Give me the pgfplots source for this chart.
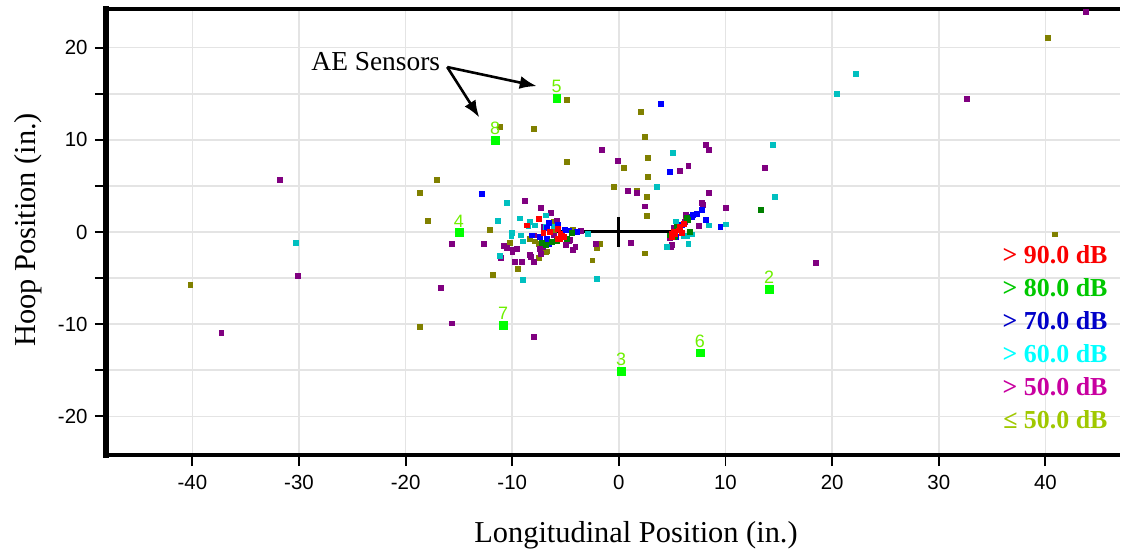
\documentclass[border=0pt]{standalone}
\usepackage{pgfplots}
\pgfplotsset{compat=1.18}
\usetikzlibrary{arrows.meta}
\usepackage{fontspec}
\setmainfont{Liberation Serif}
\newfontfamily\arial{Liberation Sans}

\definecolor{cRed}{RGB}{255,0,0}
\definecolor{cGreen}{RGB}{0,128,0}
\definecolor{cBlue}{RGB}{0,0,255}
\definecolor{cCyan}{RGB}{0,192,192}
\definecolor{cPurple}{RGB}{128,0,128}
\definecolor{cOlive}{RGB}{128,128,0}
\definecolor{cSensor}{RGB}{0,255,0}
\definecolor{cSensorTxt}{RGB}{110,240,0}
\definecolor{lRed}{RGB}{250,0,0}
\definecolor{lGreen}{RGB}{0,200,0}
\definecolor{lBlue}{RGB}{0,0,200}
\definecolor{lCyan}{RGB}{0,255,255}
\definecolor{lMag}{RGB}{200,0,160}
\definecolor{lYel}{RGB}{160,200,0}
\definecolor{gridgray}{RGB}{228,228,228}

\begin{document}
\begin{tikzpicture}
\begin{axis}[
  scale only axis,
  width=1014bp, height=446bp,
  xmin=-48.1, xmax=47.0,
  ymin=-24.2, ymax=24.2,
  xtick={-40,-30,-20,-10,0,10,20,30,40},
  xticklabels={-40,-30,-20,-10,0,10,20,30,40},
  ytick={-20,-10,0,10,20},
  yticklabels={-20,-10,0,10,20},
  minor ytick={-15,-5,5,15},
  xtick pos=bottom, ytick pos=left,
  tick align=outside,
  major tick length=11bp, minor tick length=11bp,
  every tick/.style={black, line width=1.8bp},
  minor tick style={black, line width=1.8bp},
  xmajorgrids, ymajorgrids, yminorgrids,
  grid style={gridgray, line width=1.5bp},
  minor grid style={gridgray, line width=1.5bp},
  axis line style={draw=none},
  tick label style={font=\arial\fontsize{20.5}{24}\selectfont},
  xticklabel style={yshift=-6bp},
  yticklabel style={xshift=-4bp},
  xlabel={Longitudinal Position (in.)},
  ylabel={Hoop Position (in.)},
  label style={font=\fontsize{30.5}{36}\selectfont},
  xlabel style={at={(axis description cs:0.5,0)}, anchor=center, yshift=-80bp, xshift=23bp},
  ylabel style={at={(axis description cs:-0.0769,0.5045)}, anchor=center},
  clip=false,
]
% crosshair
\addplot[draw=black, line width=3bp, mark=none, forget plot] coordinates {(-6.2,0) (5.0,0)};
\addplot[draw=black, line width=3bp, mark=none, forget plot] coordinates {(0,-1.6) (0,1.6)};

% <= 50 dB
\addplot[only marks, mark=square*, mark size=2.45bp, cOlive] coordinates {
(-40.2,-5.7) (-18.7,-10.3) (-18.7,4.3) (-17.1,5.7) (-17.9,1.2) (-12.1,0.27)
(-11.8,-4.6) (-9.5,-4.0) (-10.2,-1.14) (-8.4,-0.7) (-7.9,-1.0) (-7.55,-1.25)
(-7.2,-1.6) (-6.9,-2.16) (-6.8,-2.08) (-7.55,-2.8) (-6.1,1.1) (-6.1,0.27)
(-4.3,0.27) (-1.8,-1.3) (-2.07,-1.7) (-2.5,-3.06) (-4.9,14.4) (-11.2,11.4)
(-8.0,11.2) (-4.9,7.65) (-0.5,4.9) (0.42,7.0) (1.64,4.5) (2.05,13.1)
(2.46,10.3) (2.7,8.1) (2.7,6.0) (2.6,3.85) (2.6,1.8) (2.46,-2.3) (6.3,1.6)
(40.2,21.1) (40.85,-0.24)
};
% > 50 dB
\addplot[only marks, mark=square*, mark size=2.45bp, cPurple] coordinates {
(-31.8,5.7) (-30.1,-4.76) (-37.3,-10.9) (-16.7,-6.0) (-15.7,-9.9) (-8.0,-11.35)
(-15.7,-1.3) (-12.7,-1.3) (-11.1,-2.8) (-9.8,-3.2) (-9.1,-3.2) (-8.0,-3.2)
(-8.4,-2.5) (-8.3,-2.7) (-7.3,-2.4) (-10.0,-2.1) (-10.8,-1.5) (-10.5,-1.7)
(-9.95,-1.87) (-9.6,-1.8) (-7.4,-1.8) (-7.1,-1.6) (-8.8,3.4) (-7.3,2.6)
(-6.4,2.1) (-7.1,0.55) (-5.8,1.28) (-6.8,0.45) (-3.6,0.1) (-4.95,-1.36)
(-4.1,-1.6) (-4.3,-1.9) (-4.74,-0.9) (-4.6,-0.8) (-2.2,-1.3) (-1.64,8.9)
(-0.14,7.76) (1.1,-1.2) (0.83,4.5) (1.68,4.3) (2.46,2.8) (8.15,9.5) (8.43,8.9)
(6.5,7.15) (5.7,6.7) (13.7,7.0) (8.43,4.3) (7.8,3.2) (7.9,3.0) (10.06,2.6)
(6.3,1.9) (6.2,1.1) (7.46,0.7) (5.1,0.48) (4.8,-0.6) (4.87,-1.55) (4.96,-1.35)
(18.5,-3.35) (32.6,14.5) (43.8,23.9) (-7.95,-0.35) (-6.1,-0.35)
};
% > 60 dB
\addplot[only marks, mark=square*, mark size=2.45bp, cCyan] coordinates {
(-30.3,-1.2) (-10.5,3.2) (-11.4,1.2) (-9.3,1.5) (-8.4,1.1) (-7.9,0.74)
(-8.5,0.7) (-6.86,1.82) (-6.86,0.55) (-6.1,0.63) (-2.9,-0.22) (-10.05,-0.1)
(-10.1,-0.4) (-9.2,-0.35) (-9.05,-1.0) (-11.2,-2.6) (-9.05,-5.2) (-2.1,-5.1)
(3.55,4.9) (5.05,8.6) (14.4,9.5) (14.65,3.85) (20.4,15.0) (22.2,17.2)
(5.3,1.17) (6.05,-0.45) (6.37,-0.45) (6.68,-0.05) (6.84,-0.24) (8.4,0.74)
(10.06,0.85) (6.5,-1.3) (4.5,-1.6)
};
% > 70 dB
\addplot[only marks, mark=square*, mark size=2.45bp, cBlue] coordinates {
(-12.9,4.2) (-6.6,1.0) (-5.7,0.8) (-6.8,0.45) (-5.05,0.27) (-4.7,0.2)
(-3.95,0) (-8.2,-0.35) (-7.4,-0.53) (-6.8,-0.7) (-6.45,-1.07) (-6.6,-1.3)
(3.96,13.9) (4.77,6.57) (7.8,2.44) (7.3,2.0) (6.9,1.9) (6.8,1.7) (5.9,0.8)
(5.7,0.63) (5.37,-0.5) (8.15,1.35) (9.5,0.55)
};
% > 80 dB
\addplot[only marks, mark=square*, mark size=2.45bp, cGreen] coordinates {
(-7.2,-1.18) (-6.9,-1.36) (-6.3,-1.07) (-5.8,-0.9) (-4.4,-0.1) (-4.9,-0.7)
(13.3,2.44) (6.37,1.57) (6.5,1.35) (5.4,0.55) (6.68,0) (4.8,-0.35)
(5.1,-0.53) (5.27,-0.45)
};
% > 90 dB
\addplot[only marks, mark=square*, mark size=2.45bp, cRed] coordinates {
(-7.55,1.46) (-8.64,0.74) (-5.7,0.38) (-6.45,0) (-7.1,-0.1) (-5.5,-0.16)
(-5.36,-0.35) (-5.2,-0.53) (-5.5,-0.7) (-5.77,-0.7) (6.05,0.92) (5.74,0.55)
(5.58,0.2) (5.1,0) (4.96,-0.16) (5.9,-0.1) (5.27,-0.24) (4.96,-0.5)
};
% AE sensors
\addplot[only marks, mark=square*, mark size=3.9bp, cSensor,
  nodes near coords, point meta=explicit symbolic,
  every node near coord/.append style={anchor=center, yshift=11.5bp,
    font=\arial\fontsize{18}{21}\selectfont, text=cSensorTxt}]
  table[meta=label] {
x y label
14.1 -6.2 2
0.2 -15.1 3
-15.0 -0.05 4
-5.83 14.5 5
7.6 -13.1 6
-10.85 -10.1 7
-11.6 10.0 8
};

% annotation
\node[anchor=base west, font=\fontsize{27.5}{32}\selectfont] at (axis cs:-29.16,17.57) {AE Sensors};
\draw[black, line width=2.6bp, -{Latex[length=17bp,width=13bp]}] (axis cs:-16.1,17.9) -- (axis cs:-13.09,12.43);
\draw[black, line width=2.6bp, -{Latex[length=17bp,width=13bp]}] (axis cs:-16.1,17.9) -- (axis cs:-7.70,15.83);

% legend text
\begin{scope}[every node/.style={anchor=base east, font=\bfseries\fontsize{26}{30}\selectfont}]
\node[text=lRed]   at (axis cs:46.15,-3.39)  {> 90.0 dB};
\node[text=lGreen] at (axis cs:46.15,-7.02)  {> 80.0 dB};
\node[text=lBlue]  at (axis cs:46.15,-10.61) {> 70.0 dB};
\node[text=lCyan]  at (axis cs:46.15,-14.19) {> 60.0 dB};
\node[text=lMag]   at (axis cs:46.15,-17.77) {> 50.0 dB};
\node[text=lYel]   at (axis cs:46.15,-21.35) {≤ 50.0 dB};
\end{scope}

% frame (left, top, bottom)
\draw[black, line width=4bp] (rel axis cs:0,1) -- (rel axis cs:1,1);
\draw[black, line width=4bp] (rel axis cs:0,0) -- (rel axis cs:1,0);
\draw[black, line width=5.5bp] (rel axis cs:0,-0.006) -- (rel axis cs:0,1.006);
\end{axis}
\pgfresetboundingbox
\path (-106bp,-95bp) rectangle (1023bp,455bp);
\end{tikzpicture}
\end{document}
